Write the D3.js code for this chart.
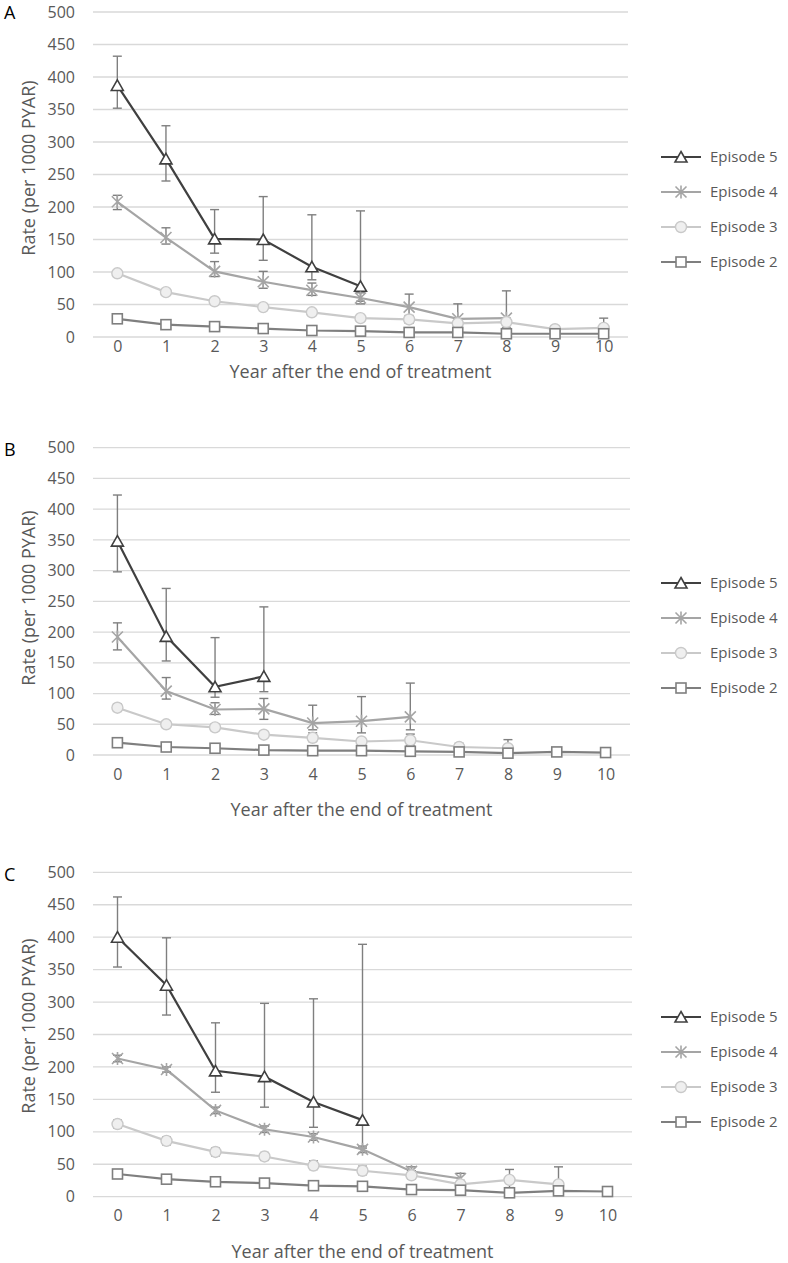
<!DOCTYPE html>
<html>
<head>
<meta charset="utf-8">
<script src="https://cdn.jsdelivr.net/npm/d3@7"></script>
<style>
  html, body { margin: 0; padding: 0; background: #fff; }
  svg { display: block; }
  text { font-family: "Open Sans", "Liberation Sans", sans-serif; }
</style>
</head>
<body>
<svg id="chart" width="788" height="1263"></svg>
<script>
// ---------- DATA ----------
const years = [0, 1, 2, 3, 4, 5, 6, 7, 8, 9, 10];
const yTicks = [0, 50, 100, 150, 200, 250, 300, 350, 400, 450, 500];
const episodes = ["Episode 5", "Episode 4", "Episode 3", "Episode 2"];
const panelLabels = ["A", "B", "C"];
const xTitle = "Year after the end of treatment";
const yTitle = "Rate (per 1000 PYAR)";

// Panel A
const aEp5   = [387, 274, 151, 150, 108, 78];
const aEp5Lo = [352, 240, 129, 118, 88, 55];
const aEp5Hi = [432, 325, 196, 216, 188, 194];
const aEp4   = [208, 153, 101, 85, 72, 60, 46, 28, 29];
const aEp4Lo = [196, 143, 93, 75, 64, 51, 32, 15, 14];
const aEp4Hi = [218, 168, 116, 101, 83, 68, 66, 51, 71];
const aEp3   = [98, 69, 55, 46, 38, 29, 27, 21, 23, 12, 14];
const aEp3Lo = [94, 66, 52, 43, 34, 25, 21, 15, 18, 8, 6];
const aEp3Hi = [102, 73, 58, 49, 42, 33, 33, 27, 29, 17, 29];
const aEp2   = [28, 19, 16, 13, 10, 9, 7, 7, 5, 5, 5];
const aEp2Lo = [26, 17, 14, 11, 8, 7, 5, 5, 3, 3, 3];
const aEp2Hi = [30, 21, 18, 15, 12, 11, 9, 9, 7, 7, 7];

// Panel B
const bEp5   = [348, 193, 111, 128];
const bEp5Lo = [298, 153, 94, 103];
const bEp5Hi = [423, 271, 191, 241];
const bEp4   = [192, 104, 74, 75, 52, 55, 62];
const bEp4Lo = [171, 91, 66, 58, 41, 36, 41];
const bEp4Hi = [215, 126, 85, 92, 81, 95, 117];
const bEp3   = [77, 50, 45, 33, 28, 22, 24, 13, 11];
const bEp3Lo = [71, 45, 40, 29, 22, 17, 16, 8, 4];
const bEp3Hi = [83, 55, 50, 38, 36, 28, 34, 19, 25];
const bEp2   = [20, 13, 11, 8, 7, 7, 6, 5, 3, 5, 4];
const bEp2Lo = [18, 11, 9, 6, 5, 5, 4, 3, 1, 3, 2];
const bEp2Hi = [22, 15, 13, 10, 9, 9, 8, 7, 5, 7, 6];

// Panel C
const cEp5   = [400, 326, 194, 185, 146, 118];
const cEp5Lo = [354, 280, 161, 138, 107, 75];
const cEp5Hi = [462, 399, 268, 298, 305, 389];
const cEp4   = [213, 196, 133, 104, 92, 73, 39, 28];
const cEp4Lo = [208, 192, 128, 99, 87, 68, 33, 22];
const cEp4Hi = [218, 200, 138, 109, 97, 78, 46, 36];
const cEp3   = [112, 86, 69, 62, 48, 40, 33, 19, 26, 19];
const cEp3Lo = [106, 80, 63, 56, 42, 34, 27, 14, 14, 5];
const cEp3Hi = [118, 92, 75, 68, 55, 47, 40, 25, 42, 46];
const cEp2   = [35, 27, 23, 21, 17, 16, 11, 10, 6, 9, 8];
const cEp2Lo = [32, 24, 20, 18, 14, 13, 8, 7, 3, 6, 5];
const cEp2Hi = [38, 30, 26, 24, 20, 19, 14, 13, 9, 12, 11];

// ---------- STYLE / LAYOUT ----------
const textColor = "#595959";
const gridColor = "#d9d9d9";
const errColor = "#7f7f7f";
const seriesStyle = [
  { color: "#404040", marker: "triangle", fill: "#ffffff" },
  { color: "#a5a5a5", marker: "star", fill: "none" },
  { color: "#c9c9c9", marker: "circle", fill: "#efefef" },
  { color: "#7f7f7f", marker: "square", fill: "#ffffff" }
];

const panels = [
  { label: panelLabels[0], labelY: 19, top: 12, bottom: 337, left: 93, right: 628,
    tickY: 352, titleY: 372, yTitleY: 168, legendY: [157, 192, 227, 262],
    series: [[aEp5, aEp5Lo, aEp5Hi], [aEp4, aEp4Lo, aEp4Hi], [aEp3, aEp3Lo, aEp3Hi], [aEp2, aEp2Lo, aEp2Hi]] },
  { label: panelLabels[1], labelY: 456, top: 447.7, bottom: 755, left: 93, right: 630,
    tickY: 780, titleY: 810, yTitleY: 598, legendY: [583, 618, 653, 688],
    series: [[bEp5, bEp5Lo, bEp5Hi], [bEp4, bEp4Lo, bEp4Hi], [bEp3, bEp3Lo, bEp3Hi], [bEp2, bEp2Lo, bEp2Hi]] },
  { label: panelLabels[2], labelY: 881, top: 872.3, bottom: 1196.7, left: 93, right: 632,
    tickY: 1221, titleY: 1252, yTitleY: 1026, legendY: [1017, 1052, 1087, 1122],
    series: [[cEp5, cEp5Lo, cEp5Hi], [cEp4, cEp4Lo, cEp4Hi], [cEp3, cEp3Lo, cEp3Hi], [cEp2, cEp2Lo, cEp2Hi]] }
];

const svg = d3.select("#chart");

function drawMarker(g, type, cx, cy, st) {
  const s = 5.5;
  if (type === "triangle") {
    g.append("path")
      .attr("d", `M${cx},${cy - s} L${cx + s + 0.5},${cy + s - 0.5} L${cx - s - 0.5},${cy + s - 0.5} Z`)
      .attr("fill", st.fill).attr("stroke", st.color).attr("stroke-width", 1.6);
  } else if (type === "star") {
    const p = `M${cx - s},${cy - s} L${cx + s},${cy + s} M${cx + s},${cy - s} L${cx - s},${cy + s} M${cx},${cy - s - 1} L${cx},${cy + s + 1}`;
    g.append("path").attr("d", p).attr("fill", "none").attr("stroke", st.color).attr("stroke-width", 1.6);
  } else if (type === "circle") {
    g.append("circle").attr("cx", cx).attr("cy", cy).attr("r", s)
      .attr("fill", st.fill).attr("stroke", st.color).attr("stroke-width", 1.4);
  } else if (type === "square") {
    g.append("rect").attr("x", cx - s + 0.5).attr("y", cy - s + 0.5).attr("width", 2 * s - 1).attr("height", 2 * s - 1)
      .attr("fill", st.fill).attr("stroke", st.color).attr("stroke-width", 1.6);
  }
}

panels.forEach(p => {
  const g = svg.append("g");
  const x = d3.scalePoint().domain(years).range([p.left, p.right]).padding(0.5);
  const y = d3.scaleLinear().domain([0, 500]).range([p.bottom, p.top]);

  // panel letter
  g.append("text").attr("x", 4).attr("y", p.labelY).attr("font-size", 18).attr("fill", "#000").text(p.label);

  // gridlines
  g.append("g").selectAll("line").data(yTicks).join("line")
    .attr("x1", p.left).attr("x2", p.right)
    .attr("y1", d => y(d)).attr("y2", d => y(d))
    .attr("stroke", gridColor).attr("stroke-width", 1.3);

  // y axis
  const ya = g.append("g").attr("transform", `translate(75,0)`)
    .call(d3.axisLeft(y).tickValues(yTicks).tickSize(0).tickPadding(0));
  ya.select(".domain").remove();
  ya.selectAll("text").attr("font-size", 16).attr("fill", textColor).attr("font-family", "Open Sans");

  // x axis
  const xa = g.append("g").attr("transform", `translate(0,${p.tickY - 11})`)
    .call(d3.axisBottom(x).tickSize(0).tickPadding(0));
  xa.select(".domain").remove();
  xa.selectAll("text").attr("font-size", 16).attr("fill", textColor).attr("font-family", "Open Sans");

  // axis titles
  g.append("text").attr("x", (p.left + p.right) / 2).attr("y", p.titleY).attr("dy", "0.35em")
    .attr("text-anchor", "middle").attr("font-size", 18).attr("fill", textColor).text(xTitle);
  g.append("text").attr("transform", `translate(29,${p.yTitleY}) rotate(-90)`).attr("dy", "0.35em")
    .attr("text-anchor", "middle").attr("font-size", 18).attr("fill", textColor).text(yTitle);

  // series
  p.series.forEach((s, i) => {
    const [vals, lo, hi] = s;
    const st = seriesStyle[i];
    const pts = vals.map((v, j) => ({ yr: years[j], v, lo: lo[j], hi: hi[j] }));
    const sg = g.append("g");
    sg.append("path").datum(pts)
      .attr("d", d3.line().x(d => x(d.yr)).y(d => y(d.v)))
      .attr("fill", "none").attr("stroke", st.color).attr("stroke-width", 2.2);
    // error bars
    pts.forEach(d => {
      const cx = x(d.yr);
      sg.append("line").attr("x1", cx).attr("x2", cx).attr("y1", y(d.lo)).attr("y2", y(d.hi))
        .attr("stroke", errColor).attr("stroke-width", 1.4);
      [d.lo, d.hi].forEach(e => {
        sg.append("line").attr("x1", cx - 4.5).attr("x2", cx + 4.5).attr("y1", y(e)).attr("y2", y(e))
          .attr("stroke", errColor).attr("stroke-width", 1.4);
      });
    });
    pts.forEach(d => drawMarker(sg, st.marker, x(d.yr), y(d.v), st));
  });

  // legend
  episodes.forEach((name, i) => {
    const st = seriesStyle[i];
    const ly = p.legendY[i];
    const lg = g.append("g");
    lg.append("line").attr("x1", 661).attr("x2", 701).attr("y1", ly).attr("y2", ly)
      .attr("stroke", st.color).attr("stroke-width", 2.2);
    drawMarker(lg, st.marker, 681, ly, st);
    lg.append("text").attr("x", 710).attr("y", ly).attr("dy", "0.35em")
      .attr("font-size", 15).attr("fill", textColor).text(name);
  });
});
</script>
</body>
</html>
